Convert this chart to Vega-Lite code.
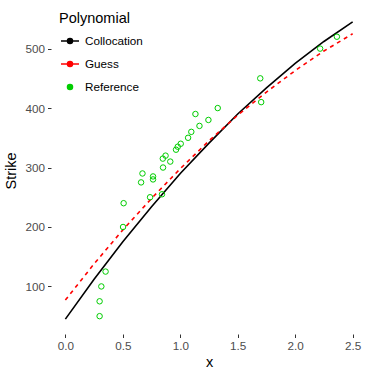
{
  "$schema": "https://vega.github.io/schema/vega-lite/v6.json",
  "autosize": {"type": "none"},
  "width": 316,
  "height": 327,
  "padding": {"left": 51, "top": 7, "right": 7, "bottom": 40},
  "background": "white",
  "config": {
    "view": {"stroke": null},
    "font": "Liberation Sans",
    "axis": {
      "domain": false,
      "grid": false,
      "tickColor": "#333333",
      "tickSize": 3.5,
      "tickWidth": 1,
      "labelColor": "#4D4D4D",
      "labelFontSize": 11.7,
      "labelFont": "Liberation Sans",
      "titleFont": "Liberation Sans",
      "titleFontSize": 14.5,
      "titleFontWeight": "normal",
      "titleColor": "black"
    }
  },
  "data": {
    "values": [
      {"x": 0.0, "y": 45, "series": "Collocation"},
      {"x": 0.25, "y": 112, "series": "Collocation"},
      {"x": 0.5, "y": 175, "series": "Collocation"},
      {"x": 0.75, "y": 234, "series": "Collocation"},
      {"x": 1.0, "y": 290, "series": "Collocation"},
      {"x": 1.25, "y": 341, "series": "Collocation"},
      {"x": 1.5, "y": 390, "series": "Collocation"},
      {"x": 1.75, "y": 434, "series": "Collocation"},
      {"x": 2.0, "y": 475, "series": "Collocation"},
      {"x": 2.25, "y": 512, "series": "Collocation"},
      {"x": 2.5, "y": 545, "series": "Collocation"},
      {"x": 0.0, "y": 77, "series": "Guess"},
      {"x": 0.25, "y": 138, "series": "Guess"},
      {"x": 0.5, "y": 195, "series": "Guess"},
      {"x": 0.75, "y": 248, "series": "Guess"},
      {"x": 1.0, "y": 298, "series": "Guess"},
      {"x": 1.25, "y": 345, "series": "Guess"},
      {"x": 1.5, "y": 388, "series": "Guess"},
      {"x": 1.75, "y": 427, "series": "Guess"},
      {"x": 2.0, "y": 463, "series": "Guess"},
      {"x": 2.25, "y": 496, "series": "Guess"},
      {"x": 2.5, "y": 525, "series": "Guess"},
      {"x": 1.326, "y": 400, "series": "Reference"},
      {"x": 1.132, "y": 390, "series": "Reference"},
      {"x": 1.245, "y": 380, "series": "Reference"},
      {"x": 1.167, "y": 370, "series": "Reference"},
      {"x": 1.096, "y": 360, "series": "Reference"},
      {"x": 1.068, "y": 350, "series": "Reference"},
      {"x": 1.004, "y": 340, "series": "Reference"},
      {"x": 0.978, "y": 335, "series": "Reference"},
      {"x": 0.963, "y": 330, "series": "Reference"},
      {"x": 0.872, "y": 320, "series": "Reference"},
      {"x": 0.848, "y": 315, "series": "Reference"},
      {"x": 0.913, "y": 310, "series": "Reference"},
      {"x": 0.85, "y": 300, "series": "Reference"},
      {"x": 0.671, "y": 290, "series": "Reference"},
      {"x": 0.763, "y": 285, "series": "Reference"},
      {"x": 0.763, "y": 280, "series": "Reference"},
      {"x": 0.659, "y": 275, "series": "Reference"},
      {"x": 0.737, "y": 250, "series": "Reference"},
      {"x": 0.841, "y": 255, "series": "Reference"},
      {"x": 0.507, "y": 240, "series": "Reference"},
      {"x": 0.502, "y": 200, "series": "Reference"},
      {"x": 0.35, "y": 125, "series": "Reference"},
      {"x": 0.313, "y": 100, "series": "Reference"},
      {"x": 0.298, "y": 75, "series": "Reference"},
      {"x": 0.298, "y": 50, "series": "Reference"},
      {"x": 1.696, "y": 450, "series": "Reference"},
      {"x": 1.704, "y": 410, "series": "Reference"},
      {"x": 2.217, "y": 500, "series": "Reference"},
      {"x": 2.363, "y": 520, "series": "Reference"}
    ]
  },
  "encoding": {
    "x": {
      "field": "x", "type": "quantitative",
      "scale": {"domain": [-0.125, 2.625], "nice": false, "zero": false},
      "axis": {"title": "x", "values": [0, 0.5, 1, 1.5, 2, 2.5], "format": ".1f", "labelPadding": 2.5, "titlePadding": 4}
    },
    "y": {
      "field": "y", "type": "quantitative",
      "scale": {"domain": [20, 570], "nice": false, "zero": false},
      "axis": {"title": "Strike", "values": [100, 200, 300, 400, 500], "labelPadding": 3, "titlePadding": 6}
    },
    "color": {
      "field": "series", "type": "nominal",
      "scale": {"domain": ["Collocation", "Guess", "Reference"], "range": ["#000000", "#FF0000", "#00CD00"]},
      "legend": {
        "title": "Polynomial",
        "orient": "none",
        "legendX": 8,
        "legendY": 5,
        "padding": 0,
        "titleFont": "Liberation Sans",
        "titleFontSize": 14.5,
        "titleFontWeight": "normal",
        "titleColor": "black",
        "titlePadding": 4.5,
        "labelFont": "Liberation Sans",
        "labelFontSize": 11.7,
        "labelColor": "black",
        "labelOffset": 5,
        "symbolSize": 324,
        "symbolOffset": 1,
        "symbolStrokeWidth": 1.5,
        "symbolOpacity": 1,
        "rowPadding": 6,
        "encode": {
          "symbols": {
            "update": {
              "shape": [
                {"test": "datum.value === 'Reference'", "value": "M0.28,0A0.28,0.28,0,1,1,-0.28,0A0.28,0.28,0,1,1,0.28,0Z"},
                {"value": "M-1,0H1M0.28,0A0.28,0.28,0,1,1,-0.28,0A0.28,0.28,0,1,1,0.28,0Z"}
              ],
              "fill": {"scale": "color", "field": "value"},
              "stroke": {"scale": "color", "field": "value"},
              "opacity": {"value": 1}
            }
          }
        }
      }
    }
  },
  "layer": [
    {
      "transform": [{"filter": "datum.series === 'Collocation'"}],
      "mark": {"type": "line", "strokeWidth": 1.6}
    },
    {
      "transform": [{"filter": "datum.series === 'Guess'"}],
      "mark": {"type": "line", "strokeWidth": 1.6, "strokeDash": [4, 4]}
    },
    {
      "transform": [{"filter": "datum.series === 'Reference'"}],
      "mark": {"type": "point", "shape": "circle", "filled": false, "size": 30, "strokeWidth": 1, "opacity": 1}
    }
  ]
}
